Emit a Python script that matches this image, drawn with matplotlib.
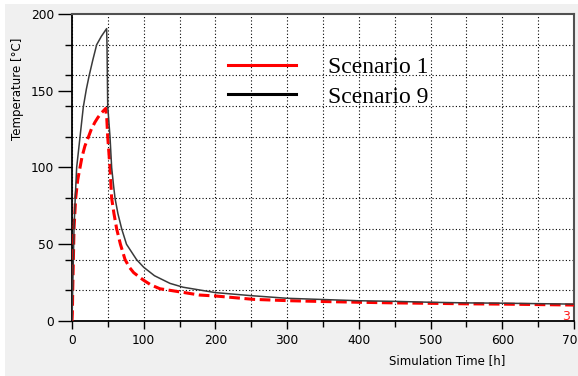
import matplotlib
matplotlib.use('Agg')
import matplotlib.pyplot as plt
from matplotlib.lines import Line2D
from matplotlib.patches import Rectangle
from matplotlib.ticker import MultipleLocator

# Scenario 1 (red dashed)
time_s1 = [0, 0.5, 1, 1.9, 2.8, 5.1, 8, 11.2, 14, 18, 23, 27, 32, 36, 40, 44, 47,
           48.5, 49.8, 53, 55.3, 58.5, 62.3, 67.5, 74, 80, 86, 99.4, 110, 122.7, 150,
           178, 200, 253, 304, 350, 401, 450, 504, 550, 600, 650, 700]
temp_s1 = [0, 5, 20, 40, 60, 80, 92, 100, 107, 114, 120, 125, 129.5, 132.5, 135, 137, 138.5,
           132, 120, 100, 80, 70, 60, 50, 40, 35, 31.5, 26.7, 23.5, 21, 19,
           16.9, 16.3, 14.1, 13.2, 12.7, 12.2, 11.8, 11.5, 11.2, 11.0, 10.7, 10.4]

# Scenario 9 (black solid)
time_s9 = [0, 1, 1.9, 2.8, 4.5, 6.5, 11.2, 15.8, 20, 24, 29, 34.4, 41, 48.3, 48.8, 49.8,
           53, 55.3, 58, 60, 64, 69.3, 76, 90, 100, 115, 136.7, 155, 178, 200, 250, 300,
           350, 400, 450, 500, 550, 600, 650, 700]
temp_s9 = [0, 22, 40, 60, 80, 100, 120, 139.5, 151, 160, 170, 180, 185.5, 190.5, 180, 140,
           120, 100, 88, 80, 70, 60, 50, 40, 35, 29.5, 24.5, 22, 20.2, 18.5, 16.5, 14.8,
           14.0, 13.2, 12.8, 12.2, 11.8, 11.6, 11.3, 11.0]

labels = ['Scenario 1', 'Scenario 9']

fig = plt.figure(figsize=(5.78, 3.76), dpi=100, facecolor='white')
fig.patches.append(Rectangle((5 / 578, 0), 1, 372 / 376, transform=fig.transFigure,
                             facecolor='#f0f0f0', edgecolor='none', zorder=-10))

ax = fig.add_axes([72 / 578, 55 / 376, 502 / 578, 307 / 376])
ax.set_facecolor('white')

ax.plot(time_s1, temp_s1, color='#ff0000', lw=2.2, linestyle=(0, (3.5, 1.5)), zorder=3)
ax.plot(time_s9, temp_s9, color='#3a3a3a', lw=1.1, zorder=4)

ax.set_xlim(0, 700)
ax.set_ylim(0, 200)
ax.xaxis.set_major_locator(MultipleLocator(100))
ax.xaxis.set_minor_locator(MultipleLocator(50))
ax.yaxis.set_major_locator(MultipleLocator(50))
ax.yaxis.set_minor_locator(MultipleLocator(20))

# dotted grid: every 50 h on x, every 20 °C on y
grid_style = dict(color='black', linestyle=(0, (1, 2)), linewidth=0.8)
ax.xaxis.grid(True, which='both', **grid_style)
ax.yaxis.grid(True, which='minor', **grid_style)
ax.set_axisbelow(True)

ax.tick_params(axis='x', which='major', length=6, width=1, pad=3.5, labelsize=8.8)
ax.tick_params(axis='x', which='minor', length=4, width=1)
ax.tick_params(axis='y', which='major', length=10, width=1, pad=3, labelsize=8.8)
ax.tick_params(axis='y', which='minor', length=5, width=1)

for side in ['left', 'bottom']:
    ax.spines[side].set_linewidth(1.3)
    ax.spines[side].set_color('black')
for side in ['top', 'right']:
    ax.spines[side].set_linewidth(1.5)
    ax.spines[side].set_color('#505050')

fig.text(18 / 578, 1 - 89 / 376, 'Temperature [°C]', rotation=90, ha='center', va='center',
         fontsize=8.5)
fig.text(447 / 578, 1 - 361 / 376, 'Simulation Time [h]', ha='center', va='center',
         fontsize=8.5)
ax.text(0.985, -0.005, '3', color='#ff2020', transform=ax.transAxes, ha='center', va='bottom',
        fontsize=9)

handles = [Line2D([], [], color='#ff0000', lw=2.2), Line2D([], [], color='black', lw=2.2)]
ax.legend(handles, labels, loc='upper left', bbox_to_anchor=(0.31, 0.862), frameon=False,
          prop={'family': 'Liberation Serif', 'size': 17}, handlelength=2.9,
          handletextpad=1.35, labelspacing=0.35, borderaxespad=0, borderpad=0)

fig.savefig('out.png', dpi=100)
